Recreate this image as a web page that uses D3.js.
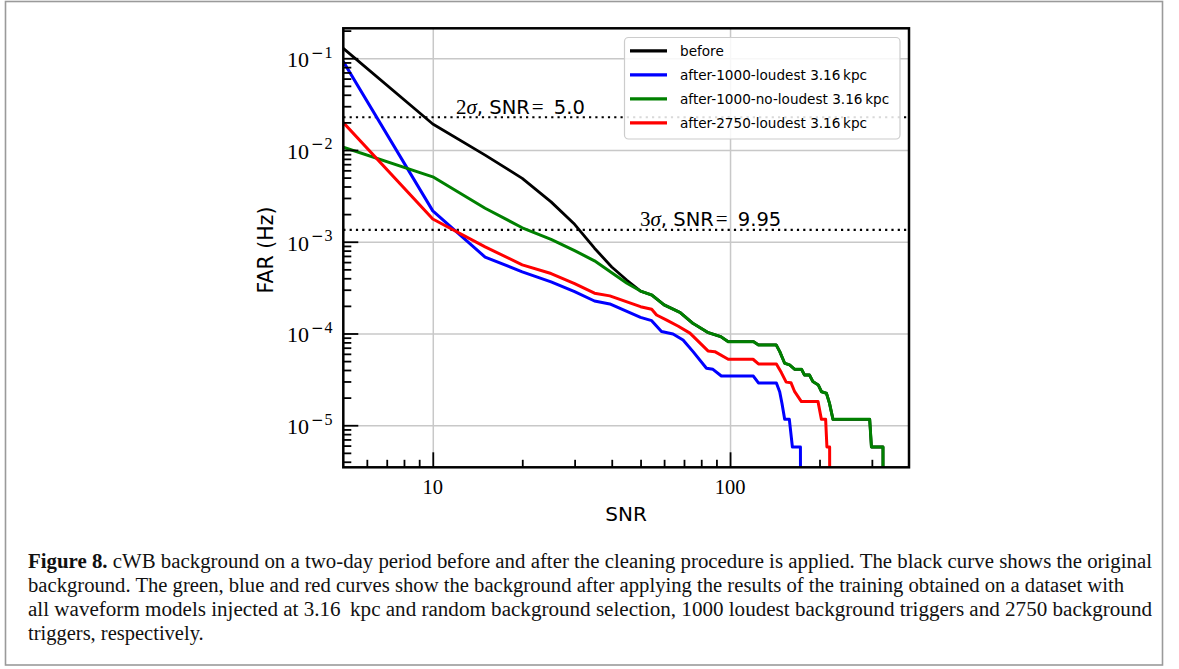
<!DOCTYPE html>
<html><head><meta charset="utf-8">
<script src="https://cdn.jsdelivr.net/npm/d3@7"></script>
<style>body{margin:0;background:#fff;}</style>
</head><body>
<svg id="c" width="1179" height="669"></svg>
<script>
// ---------------- data ----------------
const beforeSNR = [5, 10, 15, 20, 25, 30, 35, 40, 45, 50, 54.5, 60, 68, 75, 84, 93, 98.6, 120, 124.6, 143, 147, 152.7, 158.7, 165, 174, 178, 185, 190, 198, 203, 211, 216, 222, 295, 299, 327, 327.5];
const beforeFAR = [0.128, 0.0192, 0.0088, 0.0049, 0.00272, 0.00155, 0.00085, 0.00053, 0.00038, 0.00029, 0.000263, 0.000205, 0.000169, 0.000129, 0.000103, 0.0000925, 0.0000815, 0.0000815, 0.000075, 0.000075, 0.0000634, 0.0000474, 0.0000454, 0.0000407, 0.0000407, 0.0000353, 0.0000353, 0.0000299, 0.0000275, 0.0000232, 0.0000223, 0.0000174, 0.0000116, 0.0000116, 0.00000579, 0.00000579, 1e-7];

const blueSNR = [5, 10, 15, 20, 25, 30, 35, 39.4, 50, 54.5, 58.8, 64.3, 69.5, 75.1, 83.3, 87.6, 93.5, 119.8, 124.6, 143.2, 146.9, 149.5, 152.7, 158.3, 162.1, 172.5, 173];
const blueFAR = [0.092, 0.00217, 0.00068, 0.00047, 0.000365, 0.000286, 0.000226, 0.00021, 0.00015, 0.000138, 0.000105, 0.0000988, 0.0000851, 0.0000634, 0.0000418, 0.0000407, 0.0000344, 0.0000344, 0.0000289, 0.0000289, 0.0000232, 0.0000174, 0.0000116, 0.0000116, 0.00000579, 0.00000579, 1e-7];

const greenSNR = [5, 10, 15, 20, 25, 30, 35, 40, 45, 50, 54.5, 60, 68, 75, 84, 93, 98.6, 120, 124.6, 143, 147, 152.7, 158.7, 165, 174, 178, 185, 190, 198, 203, 211, 216, 222, 295, 299, 327, 327.5];
const greenFAR = [0.0107, 0.0051, 0.00232, 0.00142, 0.00106, 0.0008, 0.00062, 0.00046, 0.000353, 0.00029, 0.000263, 0.000205, 0.000169, 0.000129, 0.000103, 0.0000925, 0.0000815, 0.0000815, 0.000075, 0.000075, 0.0000634, 0.0000474, 0.0000454, 0.0000407, 0.0000407, 0.0000353, 0.0000353, 0.0000299, 0.0000275, 0.0000232, 0.0000223, 0.0000174, 0.0000116, 0.0000116, 0.00000579, 0.00000579, 1e-7];

const redSNR = [5, 10, 15, 20, 25, 30, 35, 39.4, 50, 54.5, 56.6, 61, 67, 73.3, 84.3, 88.9, 98.6, 119.5, 124.6, 143.2, 148.8, 154.5, 160.3, 165, 173.8, 197.7, 202.9, 209.7, 211.8, 216.3, 216.8];
const redFAR = [0.0199, 0.00177, 0.00088, 0.00056, 0.00045, 0.00035, 0.000275, 0.000257, 0.000196, 0.000184, 0.000159, 0.000141, 0.00012, 0.000101, 0.0000646, 0.0000634, 0.0000524, 0.0000524, 0.0000466, 0.0000466, 0.0000375, 0.0000295, 0.0000291, 0.0000232, 0.0000181, 0.0000181, 0.0000116, 0.0000116, 0.00000579, 0.00000579, 1e-7];

const seriesNames = ["before", "after-1000-loudest 3.16\u2009kpc", "after-1000-no-loudest 3.16\u2009kpc", "after-2750-loudest 3.16\u2009kpc"];
const seriesColors = ["#000000", "#0000ff", "#008000", "#ff0000"];

const sigmaFAR = [0.02275, 0.00135];
const sigmaLabel = [["2", "5.0"], ["3", "9.95"]];

const xMajor = [10, 100];
const xMajorLabels = ["10", "100"];
const yMajor = [1e-5, 1e-4, 1e-3, 1e-2, 1e-1];
const yMajorExp = ["5", "4", "3", "2", "1"];

const captionBold = "Figure 8.";
const captionLines = [
  " cWB background on a two-day period before and after the cleaning procedure is applied. The black curve shows the original",
  "background. The green, blue and red curves show the background after applying the results of the training obtained on a dataset with",
  "all waveform models injected at 3.16\u2009 kpc and random background selection, 1000 loudest background triggers and 2750 background",
  "triggers, respectively."
];

// ---------------- layout ----------------
const svg = d3.select("#c");
const L = 343.3, R = 909, T = 28.3, B = 467.3;
const x = d3.scaleLog().domain([5, 400]).range([L, R]);
const y = d3.scaleLog().domain([3.48e-6, 0.212]).range([B, T]);

// page frame
svg.append("rect").attr("x", 5.5).attr("y", 1.5).attr("width", 1157).attr("height", 663.5)
  .attr("fill", "none").attr("stroke", "#9a9a9a").attr("stroke-width", 1.6);

// grid
const grid = svg.append("g");
grid.append("g").attr("transform", `translate(0,${B})`)
  .call(d3.axisBottom(x).tickValues(xMajor).tickSize(-(B - T)).tickFormat(""))
  .call(g => g.select(".domain").remove())
  .selectAll("line").attr("stroke", "#c8c8c8").attr("stroke-width", 1.5);
grid.append("g").attr("transform", `translate(${L},0)`)
  .call(d3.axisLeft(y).tickValues(yMajor).tickSize(-(R - L)).tickFormat(""))
  .call(g => g.select(".domain").remove())
  .selectAll("line").attr("stroke", "#c8c8c8").attr("stroke-width", 1.5);

// clip
svg.append("clipPath").attr("id", "clip").append("rect")
  .attr("x", L).attr("y", T).attr("width", R - L).attr("height", B - T);

// sigma dotted lines
const sig = svg.append("g").attr("clip-path", "url(#clip)");
sigmaFAR.forEach(v => {
  sig.append("line").attr("x1", L).attr("x2", R).attr("y1", y(v)).attr("y2", y(v))
    .attr("stroke", "#000").attr("stroke-width", 2.2).attr("stroke-dasharray", "2.2,4.1");
});

// curves
const series = [
  [beforeSNR, beforeFAR], [blueSNR, blueFAR], [greenSNR, greenFAR], [redSNR, redFAR]
];
const line = d3.line().x(d => x(d[0])).y(d => y(d[1]));
const curves = svg.append("g").attr("clip-path", "url(#clip)");
series.forEach((s, i) => {
  const pts = s[0].map((v, j) => [v, s[1][j]]);
  curves.append("path").attr("d", line(pts)).attr("fill", "none")
    .attr("stroke", seriesColors[i]).attr("stroke-width", i === 0 ? 2.8 : 3)
    .attr("stroke-linejoin", "round");
});

// sigma labels
const sigTextPos = [[456, 113.5], [640, 225.5]];
sigmaFAR.forEach((v, i) => {
  const t = svg.append("text").attr("x", sigTextPos[i][0]).attr("y", sigTextPos[i][1])
    .attr("font-size", 19.5).attr("fill", "#000");
  t.append("tspan").attr("font-family", "Liberation Serif").attr("font-size", 21).text(sigmaLabel[i][0]);
  t.append("tspan").attr("font-family", "Liberation Serif").attr("font-style", "italic").attr("font-size", 21).text("σ");
  t.append("tspan").attr("font-family", "DejaVu Sans").text(", SNR");
  t.append("tspan").attr("font-family", "Liberation Serif").attr("font-size", 21).attr("dx", 2).text("=");
  t.append("tspan").attr("font-family", "DejaVu Sans").attr("dx", 4).text(" " + sigmaLabel[i][1]);
});

// ticks (inward)
const yMinor = [];
[-6, -5, -4, -3, -2, -1].forEach(k => { for (let m = 2; m <= 9; m++) { const v = m * Math.pow(10, k); if (v >= 3.48e-6 && v <= 0.212) yMinor.push(v); } });
const xMinor = [];
[0, 1, 2].forEach(k => { for (let m = 2; m <= 9; m++) { const v = m * Math.pow(10, k); if (v > 5 && v < 400) xMinor.push(v); } });

function tickStyle(g) { g.select(".domain").remove(); g.selectAll("line").attr("stroke", "#000").attr("stroke-width", 1.8); }
svg.append("g").attr("transform", `translate(${L},0)`)
  .call(d3.axisLeft(y).tickValues(yMajor).tickSize(-15).tickFormat("")).call(tickStyle);
svg.append("g").attr("transform", `translate(${L},0)`)
  .call(d3.axisLeft(y).tickValues(yMinor).tickSize(-8).tickFormat("")).call(tickStyle);
svg.append("g").attr("transform", `translate(0,${B})`)
  .call(d3.axisBottom(x).tickValues(xMajor).tickSize(-15).tickFormat("")).call(tickStyle);
svg.append("g").attr("transform", `translate(0,${B})`)
  .call(d3.axisBottom(x).tickValues(xMinor).tickSize(-7.5).tickFormat("")).call(tickStyle);

// spines
svg.append("rect").attr("x", L).attr("y", T).attr("width", R - L).attr("height", B - T)
  .attr("fill", "none").attr("stroke", "#000").attr("stroke-width", 2.5);

// y tick labels
yMajor.forEach((v, i) => {
  const yy = y(v);
  const t = svg.append("text").attr("x", 287).attr("y", yy + 8.8).attr("fill", "#000");
  t.append("tspan").attr("font-family", "Liberation Serif").attr("font-size", 22).text("10");
  t.append("tspan").attr("font-family", "DejaVu Serif").attr("font-size", 15).attr("dx", 2).attr("dy", -9.5).text("\u2212");
  t.append("tspan").attr("font-family", "Liberation Serif").attr("font-size", 16).attr("dx", 1).text(yMajorExp[i]);
});
// x tick labels
xMajor.forEach((v, i) => {
  svg.append("text").attr("x", x(v)).attr("y", 493.5).attr("text-anchor", "middle")
    .attr("font-family", "Liberation Serif").attr("font-size", 20.5).attr("fill", "#000").text(xMajorLabels[i]);
});

// axis labels
svg.append("text").attr("x", 626).attr("y", 521).attr("text-anchor", "middle")
  .attr("font-family", "DejaVu Sans").attr("font-size", 20).text("SNR");
svg.append("text").attr("transform", "translate(273,250) rotate(-90)").attr("text-anchor", "middle")
  .attr("font-family", "DejaVu Sans").attr("font-size", 20.5).text("FAR (Hz)");

// legend
const lg = svg.append("g");
lg.append("rect").attr("x", 624.5).attr("y", 37.5).attr("width", 275.5).attr("height", 101.5).attr("rx", 4)
  .attr("fill", "#fff").attr("fill-opacity", 0.85).attr("stroke", "#cccccc").attr("stroke-width", 1.2);
seriesNames.forEach((n, i) => {
  const cy = 50.8 + i * 24;
  lg.append("line").attr("x1", 630).attr("x2", 667).attr("y1", cy).attr("y2", cy)
    .attr("stroke", seriesColors[i]).attr("stroke-width", 3.2);
  lg.append("text").attr("x", 680).attr("y", cy + 5).attr("font-family", "DejaVu Sans").attr("font-size", 13.6)
    .attr("fill", "#000").text(n);
});

// caption
const capW = [1124, 1096, 1124, null];
captionLines.forEach((s, i) => {
  const t = svg.append("text").attr("x", 28).attr("y", 568 + i * 24)
    .attr("font-family", "Liberation Serif").attr("font-size", 20.5).attr("fill", "#111");
  if (capW[i]) t.attr("textLength", capW[i]).attr("lengthAdjust", "spacingAndGlyphs");
  if (i === 0) t.append("tspan").attr("font-weight", "bold").text(captionBold);
  t.append("tspan").text(s);
});
</script>
</body></html>
